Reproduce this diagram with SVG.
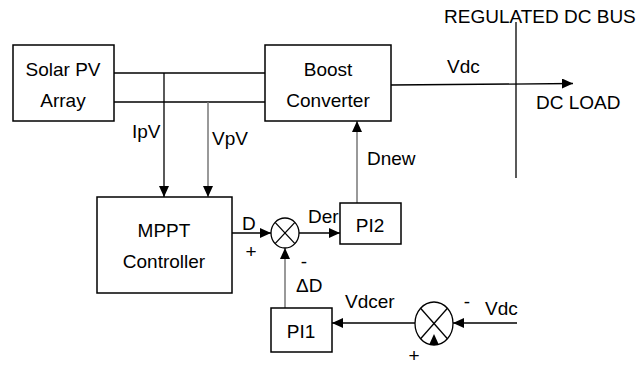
<svg xmlns="http://www.w3.org/2000/svg" width="638" height="367" viewBox="0 0 638 367">
<style>
.box{fill:#fff;stroke:#000;stroke-width:1.5}
.ln{fill:none;stroke:#000;stroke-width:1.3}
.gl{fill:none;stroke:#777;stroke-width:1.5}
text{font-family:"Liberation Sans",Arial,sans-serif;font-size:19px;fill:#000}
.c{text-anchor:middle}
</style>
<defs>
<marker id="ah" markerUnits="userSpaceOnUse" markerWidth="12" markerHeight="10" refX="11" refY="5" orient="auto">
<path d="M0,0 L11,5 L0,10 Z" fill="#000"/>
</marker>
</defs>
<rect width="638" height="367" fill="#fff"/>
<g id="connectors">
<line class="ln" x1="114" y1="73" x2="265" y2="73"/>
<line class="ln" x1="114" y1="102" x2="265" y2="102"/>
<line class="ln" x1="164" y1="73" x2="164" y2="197" marker-end="url(#ah)"/>
<line class="gl" x1="208" y1="102" x2="208" y2="197" marker-end="url(#ah)"/>
<line class="ln" x1="391" y1="85" x2="573" y2="83.5" marker-end="url(#ah)"/>
<line class="ln" x1="516" y1="22" x2="516" y2="178"/>
<line class="gl" x1="357" y1="203" x2="357" y2="121" marker-end="url(#ah)"/>
<line class="ln" x1="232" y1="233" x2="271" y2="233" marker-end="url(#ah)"/>
<line class="ln" x1="299" y1="233" x2="340" y2="233" marker-end="url(#ah)"/>
<line class="gl" x1="285" y1="308" x2="285" y2="248" marker-end="url(#ah)"/>
<line class="ln" x1="415" y1="323" x2="332" y2="323" marker-end="url(#ah)"/>
<line class="ln" x1="517" y1="323" x2="453" y2="323" marker-end="url(#ah)"/>
</g>
<g id="solar">
<rect class="box" x="13" y="45" width="101" height="76"/>
<text class="c" x="63" y="76">Solar PV</text>
<text class="c" x="63" y="107">Array</text>
</g>
<g id="boost">
<rect class="box" x="265" y="45" width="126" height="76"/>
<text class="c" x="328" y="76">Boost</text>
<text class="c" x="328" y="107">Converter</text>
</g>
<g id="mppt">
<rect class="box" x="97" y="197" width="135" height="96"/>
<text class="c" x="164" y="237">MPPT</text>
<text class="c" x="164" y="268">Controller</text>
</g>
<g id="sum1">
<ellipse class="ln" cx="285" cy="233" rx="14" ry="15"/>
<line class="ln" x1="275.1" y1="222.4" x2="294.9" y2="243.6"/>
<line class="ln" x1="275.1" y1="243.6" x2="294.9" y2="222.4"/>
</g>
<g id="pi2">
<rect class="box" x="340" y="203" width="61" height="41"/>
<text class="c" x="370" y="232">PI2</text>
</g>
<g id="pi1">
<rect class="box" x="271" y="308" width="61" height="44"/>
<text class="c" x="301" y="338">PI1</text>
</g>
<g id="sum2">
<ellipse class="ln" cx="434" cy="323.5" rx="19" ry="21.5"/>
<line class="ln" x1="420.6" y1="308.3" x2="447.4" y2="338.7"/>
<line class="ln" x1="420.6" y1="338.7" x2="447.4" y2="308.3"/>
<polygon points="434,334 429,345 439,345" fill="#000"/>
</g>
<g id="labels">
<text x="444" y="23" font-size="16.8">REGULATED DC BUS</text>
<text x="132" y="138">IpV</text>
<text x="212" y="145">VpV</text>
<text x="447" y="73">Vdc</text>
<text x="536" y="109">DC LOAD</text>
<text x="367" y="165">Dnew</text>
<text x="242" y="230">D</text>
<text x="251" y="258" class="c" font-size="21">+</text>
<text x="308" y="223">Der</text>
<text x="304" y="268" class="c">-</text>
<text x="296" y="292">ΔD</text>
<text x="345" y="308">Vdcer</text>
<text x="467" y="308" class="c">-</text>
<text x="485" y="315">Vdc</text>
<text x="414" y="362" class="c" font-size="21">+</text>
</g>
</svg>
